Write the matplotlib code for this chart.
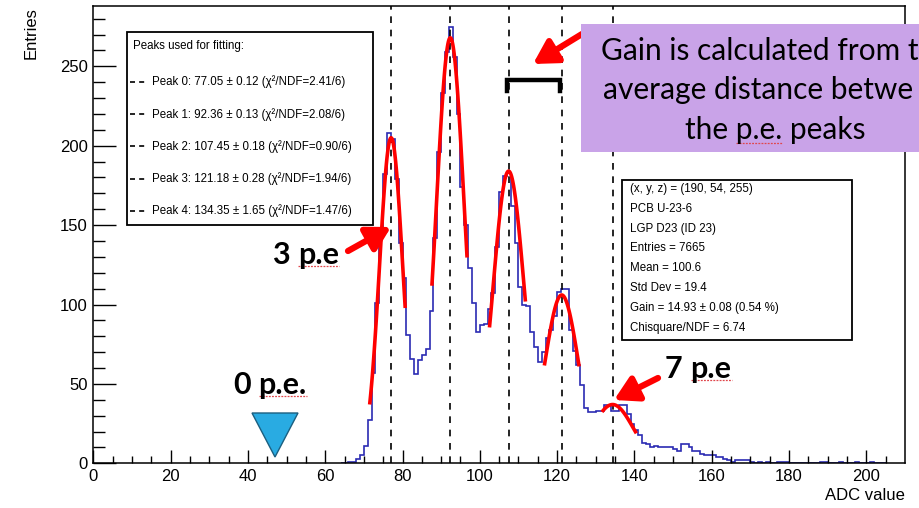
import numpy as np
import matplotlib
matplotlib.use("Agg")
from matplotlib import pyplot as plt
from matplotlib.patches import Rectangle, Polygon
from matplotlib.transforms import IdentityTransform

W, H = 920, 508

# ADC histogram, 1 unit bins, first bin starts at 64
first_bin = 64
counts = [0, 0, 1, 1, 3, 5, 11, 27, 57, 101, 147, 182, 208, 204, 179, 139,
          117, 81, 66, 56, 65, 68, 72, 96, 142, 196, 233, 259, 275, 256, 220,
          174, 150, 123, 101, 83, 87, 88, 97, 107, 136, 171, 181, 183, 162,
          139, 111, 100, 99, 83, 73, 64, 70, 79, 84, 93, 108, 110, 110, 84,
          71, 62, 49, 35, 32, 32, 33, 33, 37, 36, 33, 33, 37, 37, 31, 25, 21,
          18, 13, 12, 10, 11, 10, 10, 10, 10, 9, 8, 12, 12, 10, 8, 8, 6, 5,
          5, 5, 4, 4, 3, 2, 1, 2, 2, 2, 2, 1, 0, 1, 0, 1, 0, 0, 1, 1, 1, 0,
          0, 0, 0, 0, 0, 0, 0, 1, 1, 0, 0, 0, 1, 0, 0, 0, 1, 0, 0, 0, 1, 0,
          0, 0]

# fitted peaks
peak_pos = [77.05, 92.36, 107.45, 121.18, 134.35]
peak_err = [0.12, 0.13, 0.18, 0.28, 1.65]
peak_chi2 = [2.41, 2.08, 0.90, 1.94, 1.47]
peak_ndf = [6, 6, 6, 6, 6]

# gaussian fit params (amplitude, sigma, fit range)
fit_amp = [205, 268, 184, 106, 37]
fit_sigma = [3.0, 3.6, 4.0, 4.3, 5.3]
fit_lo = [71.5, 87.6, 102.5, 116.7, 131.6]
fit_hi = [80.7, 96.7, 111.8, 125.7, 140.5]

stats_lines = ["(x, y, z) = (190, 54, 255)", "PCB U-23-6", "LGP D23 (ID 23)",
               "Entries = 7665", "Mean = 100.6", "Std Dev = 19.4",
               "Gain = 14.93 \u00b1 0.08 (0.54 %)", "Chisquare/NDF = 6.74"]

# the slide box runs off the page, only this much of it is visible
note_lines = ["Gain is calculated from t", "average distance betwe",
              "the p.e. peaks"]
note_x = [601, 603, 685]

# photo-electron labels: number, position
pe_num = ["3", "0", "7"]
pe_unit = ["p.e", "p.e.", "p.e"]
pe_xy = [(272, 255), (233, 385), (665, 369)]

plt.rcParams["font.family"] = ["Liberation Sans", "DejaVu Sans"]

fig = plt.figure(figsize=(W / 100, H / 100), dpi=100)
ax = fig.add_axes([93.3 / W, 44.7 / H, 811.7 / W, 457.3 / H])
PX = IdentityTransform()
renderer = fig.canvas.get_renderer()


def fp(x, y):
    # image pixel (top-left origin) -> figure pixel
    return (x, H - y)


def ptext(x, y, s, **kw):
    return fig.text(x, H - y, s, transform=PX, **kw)


def squiggle(x0, x1, y):
    # red spell-check underline
    fig.add_artist(plt.Line2D([x0, x1], [y, y], transform=PX,
                              color="#e0474c", lw=0.9, ls=(0, (1.5, 1))))


edges = np.arange(first_bin, first_bin + len(counts) + 1)
ax.stairs(counts, edges, color="#2b2bb3", lw=1.2, baseline=None)

for i in range(len(peak_pos)):
    ax.axvline(peak_pos[i], color="black", lw=1.2, ls=(0, (4, 4)))
    xs = np.linspace(fit_lo[i], fit_hi[i], 80)
    ys = fit_amp[i] * np.exp(-0.5 * ((xs - peak_pos[i]) / fit_sigma[i]) ** 2)
    ax.plot(xs, ys, color="#ff0000", lw=2.6, solid_capstyle="butt")

ax.set_xlim(0, 210)
ax.set_ylim(0, 288)
ax.set_xticks(np.arange(0, 201, 20))
ax.set_xticks(np.arange(0, 210, 5), minor=True)
ax.set_yticks(np.arange(0, 251, 50))
ax.set_yticks(np.arange(0, 288, 10), minor=True)
ax.tick_params(which="both", direction="in", top=False, right=False, labelsize=12)
ax.tick_params(axis="x", which="major", length=9.4, width=1, pad=4)
ax.tick_params(axis="x", which="minor", length=4.7, width=1)
ax.tick_params(axis="y", which="major", length=16.5, width=1, pad=4)
ax.tick_params(axis="y", which="minor", length=8.3, width=1)
for s in ax.spines.values():
    s.set_linewidth(1.1)

ptext(31, 7, "Entries", rotation=90, ha="center", va="top", fontsize=12)
ptext(905, 495, "ADC value", ha="right", va="center", fontsize=12)

# legend box with the peaks
fig.add_artist(Rectangle(fp(127, 225), 246, 193, transform=PX,
                         facecolor="white", edgecolor="black", lw=1.3))
ptext(133, 46, "Peaks used for fitting:", fontsize=8.3, va="center")
for i in range(len(peak_pos)):
    y = 82 + 32.2 * i
    fig.add_artist(plt.Line2D([130, 148], [H - y, H - y], transform=PX,
                              color="black", lw=1.2, ls=(0, (3, 2.5))))
    txt = f"Peak {i}: {peak_pos[i]:.2f} \u00b1 {peak_err[i]:.2f} (\u03c7\u00b2/NDF={peak_chi2[i]:.2f}/{peak_ndf[i]})"
    ptext(152, y, txt, fontsize=8.3, va="center")

# stats box
fig.add_artist(Rectangle(fp(622, 340), 230, 160, transform=PX,
                         facecolor="white", edgecolor="black", lw=1.3))
for i, line in enumerate(stats_lines):
    ptext(630, 189 + 19.8 * i, line, fontsize=8.3, va="center")

# purple note box
fig.add_artist(Rectangle(fp(581, 152), 400, 128, transform=PX,
                         facecolor="#c9a3e8", edgecolor="none"))
note_font = dict(fontsize=21.5, family="Lato", va="center", color="black")
for i, line in enumerate(note_lines):
    ptext(note_x[i], 51 + 39.5 * i, line, ha="left", **note_font)
# underline the "p.e." in the last line
pre = ptext(note_x[2], 131, "the ", **note_font)
pe = ptext(note_x[2], 131, "the p.e.", **note_font)
b0 = pre.get_window_extent(renderer)
b1 = pe.get_window_extent(renderer)
pre.remove()
pe.remove()
squiggle(b0.x1, b1.x1, b1.y0 + 2)

# bracket between peaks 2 and 3
bx = [507, 507, 560, 560]
by = [91, 80, 80, 91]
fig.add_artist(plt.Line2D(bx, [H - v for v in by], transform=PX,
                          color="black", lw=3.2, solid_joinstyle="miter"))

# red arrows
arrows = [((582, 34), (533, 64)), ((348, 251), (391, 227)), ((658, 378), (614, 400))]
for tail, tip in arrows:
    ax.annotate("", xy=fp(*tip), xytext=fp(*tail), xycoords="figure pixels",
                textcoords="figure pixels", annotation_clip=False,
                arrowprops=dict(arrowstyle="-|>,head_length=0.7,head_width=0.4",
                                color="#ff0000", lw=4.5, mutation_scale=20,
                                shrinkA=0, shrinkB=0))

# p.e. labels
for num, unit, (x, y) in zip(pe_num, pe_unit, pe_xy):
    t = ptext(x, y, num, fontsize=22, family="Lato", weight="bold", va="center")
    bb = t.get_window_extent(renderer)
    u = ptext(bb.x1 + 8, y, unit, fontsize=22, family="Lato", weight="bold",
              va="center")
    ub = u.get_window_extent(renderer)
    squiggle(ub.x0, ub.x1, ub.y0 + 3)

# blue marker at the pedestal
tri = [fp(252, 413), fp(298, 413), fp(275, 457)]
fig.add_artist(Polygon(tri, closed=True, transform=PX, facecolor="#29abe2",
                       edgecolor="#1b5f80", lw=1))

fig.savefig("out.png", dpi=100)
